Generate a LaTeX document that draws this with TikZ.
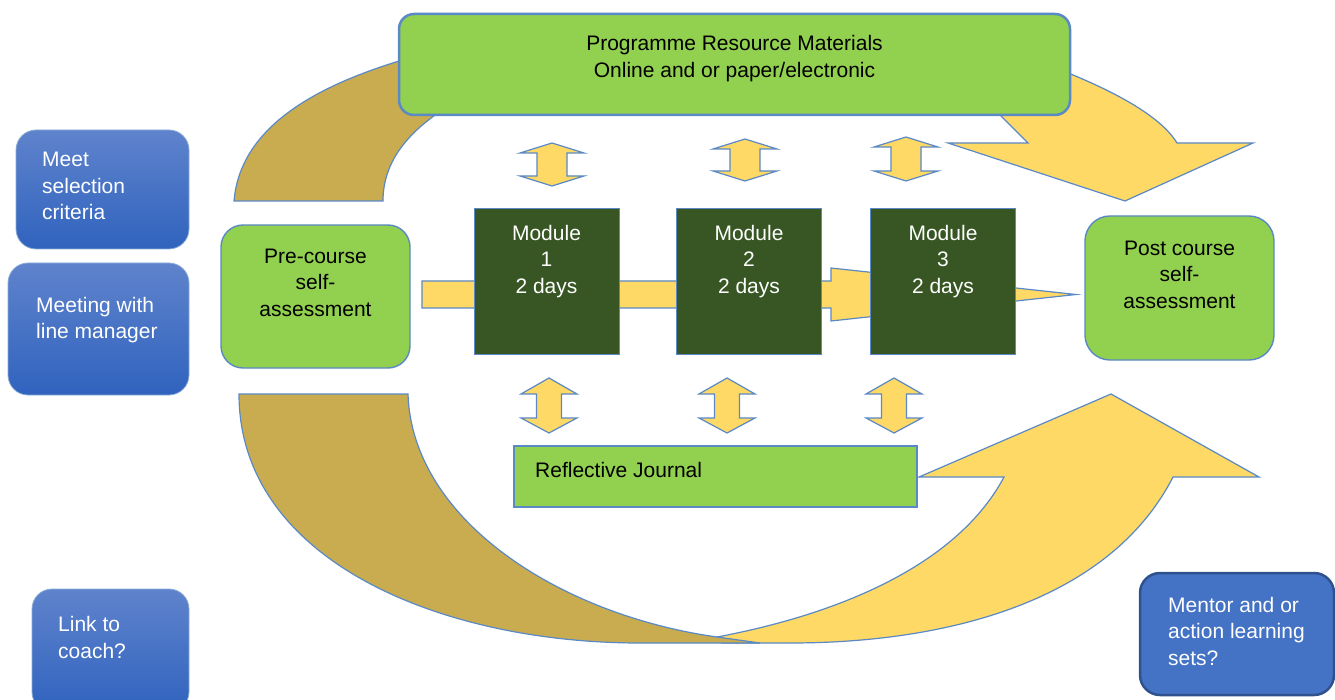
\documentclass[tikz,border=0pt]{standalone}
\usepackage{fontspec}
\setmainfont{Liberation Sans}
\usetikzlibrary{arrows.meta}

\definecolor{lgreen}{HTML}{92D050}
\definecolor{dgreen}{HTML}{375623}
\definecolor{gold}{HTML}{FFD966}
\definecolor{ochre}{HTML}{C9AC50}
\definecolor{edge}{HTML}{5A89C5}
\definecolor{bluetop}{HTML}{5F83CC}
\definecolor{bluebot}{HTML}{3063BE}
\definecolor{bluebox}{HTML}{4472C4}
\definecolor{blueedge}{HTML}{2F528F}

\begin{document}
\begin{tikzpicture}[x=1pt,y=-1pt,
    every node/.style={font=\fontsize{21}{26.5}\selectfont, inner sep=0pt},
    band/.style={draw=edge, line width=1.2pt, line join=miter},
    greenbox/.style={draw=edge, line width=1.4pt, fill=lgreen, rounded corners=22pt},
    module/.style={draw=edge, line width=1pt, fill=dgreen, minimum width=145pt, minimum height=145pt},
    bluebox/.style={draw=edge!70, line width=0.8pt, rounded corners=20pt, top color=bluetop, bottom color=bluebot}]
\useasboundingbox (0,0) rectangle (1335,700);

% Top curved arrow (back part and head)
\draw[band, fill=ochre] (234,201) .. controls (240,130) and (310,85) .. (420,55) -- (450,105)
    .. controls (410,130) and (383,160) .. (383,201) -- cycle;
\draw[band, fill=gold] (1040,62) .. controls (1110,88) and (1160,115) .. (1177,143) -- (1253,143)
    -- (1125,201) -- (948,143) -- (1028,143) -- (985,100) -- cycle;

% Resource materials
\node[greenbox, line width=2.5pt, rounded corners=15pt, minimum width=671pt, minimum height=101pt] (res) at (734.5,64.5) {};
\node[anchor=north, align=center] (restxt) at (734.5,35.5) {Programme Resource Materials\\Online and or paper/electronic};

% Bottom curved arrow
\draw[band, fill=gold] (717,637) .. controls (850,612) and (960,560) .. (1004,477) -- (919,477)
    -- (1111,394) -- (1259,477) -- (1173,477) .. controls (1110,600) and (950,643) .. (790,643) -- (722,643) -- cycle;
\draw[band, fill=ochre] (239,394) .. controls (239,560) and (440,643) .. (640,643) -- (760,643)
    -- (717,637) .. controls (560,615) and (412,520) .. (408,394) -- cycle;

% Course line
\draw[band, fill=gold] (422,281) -- (831,281) -- (831,268) -- (1076,294.5) -- (831,321) -- (831,308) -- (422,308) -- cycle;

% Double arrows to resources
\foreach \x/\t/\b in {552/143/186, 745/139/181, 906/137/181}
  \draw[band, fill=gold] (\x,\t) -- (\x+32,\t+10) -- (\x+15,\t+10) -- (\x+15,\b-10) -- (\x+32,\b-10) -- (\x,\b)
      -- (\x-32,\b-10) -- (\x-15,\b-10) -- (\x-15,\t+10) -- (\x-32,\t+10) -- cycle;

% Double arrows to journal
\foreach \x in {549,727,894}
  \draw[band, fill=gold] (\x,378) -- (\x+28,394) -- (\x+12.5,394) -- (\x+12.5,418) -- (\x+28,418) -- (\x,433)
      -- (\x-28,418) -- (\x-12.5,418) -- (\x-12.5,394) -- (\x-28,394) -- cycle;

% Modules
\foreach \i/\x in {1/546.5, 2/749, 3/943} {
  \node[module] (m\i) at (\x,281.5) {};
  \node[anchor=north, align=center, text=white] (m\i txt) at (\x,225) {Module\\\i\\2 days};
}

% Self-assessments
\node[greenbox, minimum width=189pt, minimum height=143pt] (pre) at (315.5,296.5) {};
\node[anchor=north, align=center] (pretxt) at (315.5,248.5) {Pre-course\\self-\\assessment};
\node[greenbox, rounded corners=25pt, minimum width=189pt, minimum height=144pt] (post) at (1179.5,288) {};
\node[anchor=north, align=center] (posttxt) at (1179.5,240.5) {Post course\\self-\\assessment};

% Reflective journal
\node[draw=edge, line width=1.2pt, fill=lgreen, minimum width=403pt, minimum height=61pt] (journal) at (715.5,476.5) {};
\node[anchor=north west] (journaltxt) at (535,462) {Reflective Journal};

% Side boxes
\node[bluebox, minimum width=173pt, minimum height=119pt] (meet) at (102.5,189.5) {};
\node[anchor=north west, align=left, text=white] (meettxt) at (42,152) {Meet\\selection\\criteria};
\node[bluebox, minimum width=181pt, minimum height=132pt] (manager) at (98.5,329) {};
\node[anchor=north west, align=left, text=white] (managertxt) at (36,297) {Meeting with\\line manager};
\node[bluebox, minimum width=157pt, minimum height=123pt] (coach) at (110.5,650.5) {};
\node[anchor=north west, align=left, text=white] (coachtxt) at (58,616.5) {Link to\\coach?};
\node[draw=blueedge, line width=2.5pt, fill=bluebox, rounded corners=20pt, minimum width=194pt, minimum height=122pt] (mentor) at (1237,634) {};
\node[anchor=north west, align=left, text=white] (mentortxt) at (1168,597) {Mentor and or\\action learning\\sets?};
\end{tikzpicture}
\end{document}
